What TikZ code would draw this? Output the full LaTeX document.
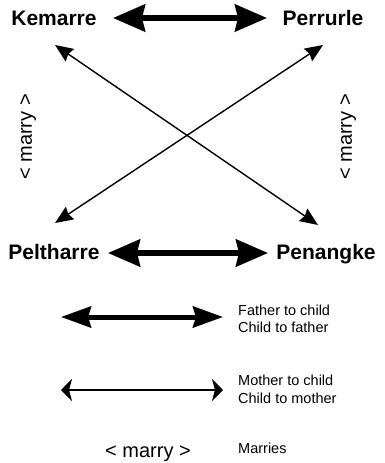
\documentclass[tikz,border=0pt]{standalone}
\usepackage{fontspec}
\setmainfont{Liberation Sans}
\usetikzlibrary{arrows.meta}
\begin{document}
\begin{tikzpicture}[x=1pt,y=-1pt,
  clanname/.style={font=\fontsize{21}{25}\selectfont\bfseries, inner sep=0pt, anchor=base},
  marrytxt/.style={font=\fontsize{20}{24}\selectfont, inner sep=0pt},
  legtxt/.style={font=\fontsize{14.5}{17}\selectfont, inner sep=0pt, anchor=base west},
  fatherarrow/.style={line width=5.5pt, {Stealth[length=32pt,width=27pt,inset=3pt]}-{Stealth[length=32pt,width=27pt,inset=3pt]}},
  fatherleg/.style={line width=5pt, {Stealth[length=30pt,width=21pt,inset=3pt]}-{Stealth[length=30pt,width=21pt,inset=3pt]}},
  motherarrow/.style={line width=1.4pt, {Stealth[length=18pt,width=15pt,inset=2pt]}-{Stealth[length=18pt,width=15pt,inset=2pt]}},
  motherleg/.style={line width=1.1pt, {Stealth[length=11pt,width=22pt,inset=3pt]}-{Stealth[length=11pt,width=22pt,inset=3pt]}}
]
\useasboundingbox (0,0) rectangle (385,463);
\fill[white] (0,0) rectangle (385,463);

% names
\node[clanname] (kem) at (54,25) {Kemarre};
\node[clanname] (per) at (323,25) {Perrurle};
\node[clanname] (pel) at (54,259) {Peltharre};
\node[clanname] (pen) at (326,259) {Penangke};

% arrow end points
\coordinate (kemE) at (113,18);
\coordinate (perW) at (267,18);
\coordinate (pelE) at (108,253);
\coordinate (penW) at (268,253);
\coordinate (kemS) at (55,45);
\coordinate (perS) at (323,45);
\coordinate (pelN) at (55,223);
\coordinate (penN) at (318,225);

% father-child arrows
\draw[fatherarrow] (kemE) -- (perW);
\draw[fatherarrow] (pelE) -- (penW);

% mother-child arrows
\draw[motherarrow] (kemS) -- (penN);
\draw[motherarrow] (perS) -- (pelN);

% marry labels
\node[marrytxt, rotate=90] (ml) at (28,137) {< marry >};
\node[marrytxt, rotate=90] (mr) at (348,137) {< marry >};

% legend
\coordinate (l1a) at (61,317);
\coordinate (l1b) at (223,317);
\coordinate (l2a) at (61,390);
\coordinate (l2b) at (223,390);
\draw[fatherleg] (l1a) -- (l1b);
\draw[motherleg] (l2a) -- (l2b);
\node[legtxt] (t1) at (238,315) {Father to child};
\node[legtxt] (t2) at (238,332) {Child to father};
\node[legtxt] (t3) at (238,385) {Mother to child};
\node[legtxt] (t4) at (238,403) {Child to mother};
\node[marrytxt, anchor=base] (lm) at (148,457) {< marry >};
\node[legtxt] (t5) at (238,453) {Marries};
\end{tikzpicture}
\end{document}
